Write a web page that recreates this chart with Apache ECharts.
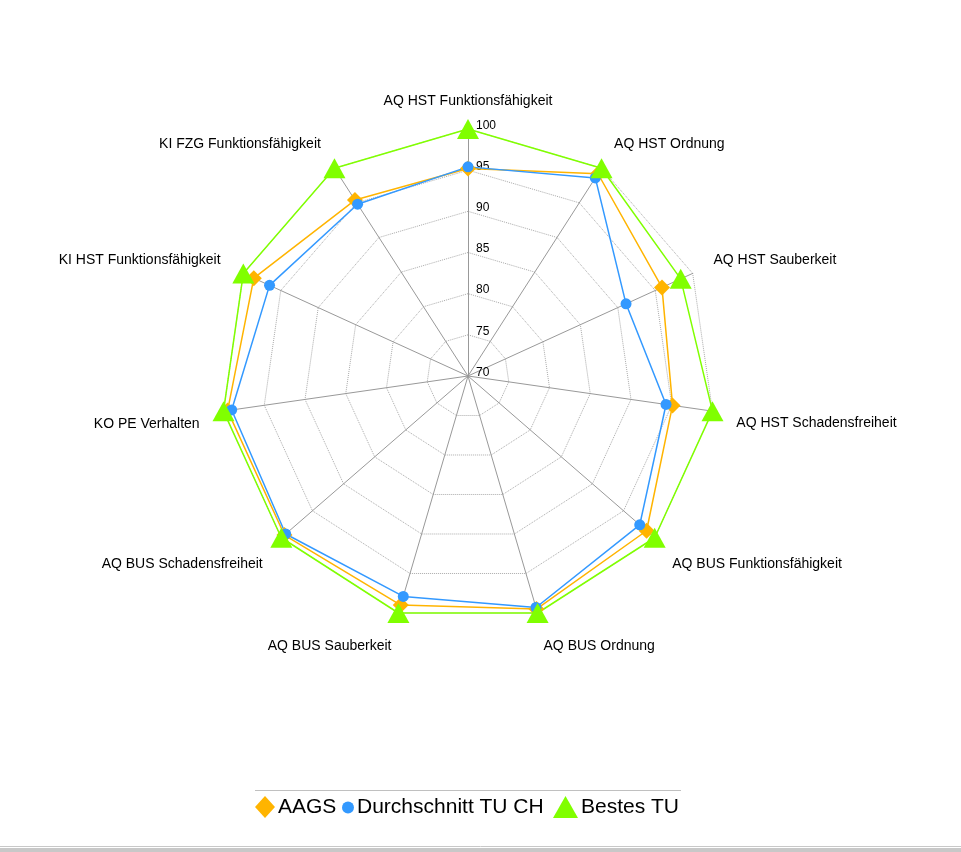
<!DOCTYPE html>
<html>
<head>
<meta charset="utf-8">
<script src="https://cdn.jsdelivr.net/npm/echarts@6/dist/echarts.min.js"></script>
<style>
  html, body { margin: 0; padding: 0; background: #fff; }
  #chart { width: 961px; height: 852px; }
</style>
</head>
<body>
<div id="chart"></div>
<script>
// clockwise from the top
const categories = [
  'AQ HST Funktionsfähigkeit',
  'AQ HST Ordnung',
  'AQ HST Sauberkeit',
  'AQ HST Schadensfreiheit',
  'AQ BUS Funktionsfähigkeit',
  'AQ BUS Ordnung',
  'AQ BUS Sauberkeit',
  'AQ BUS Schadensfreiheit',
  'KO PE Verhalten',
  'KI HST Funktionsfähigkeit',
  'KI FZG Funktionsfähigkeit'
];
const aags = [95.2, 99.2, 95.9, 95.1, 98.7, 99.5, 99.0, 99.5, 99.5, 98.6, 95.4];
const durchschnitt = [95.4, 98.6, 91.1, 94.3, 97.6, 99.3, 97.9, 99.3, 99.0, 96.5, 94.8];
const bestes = [100, 100, 98.4, 100, 100, 100, 100, 100, 100, 100, 100];
const axisMin = 70;
const axisMax = 100;
const tickStep = 5;

// [dx, dy] nudge of each category name away from where echarts puts it
const nameNudge = [
  [0, -14],
  [5, -12],
  [8, -7],
  [10, 10],
  [7, 17],
  [2, 20],
  [-3, 20],
  [-8, 17],
  [-10, 11],
  [-10, -7],
  [-6, -12]
];

const font = '"Liberation Sans", Arial, sans-serif';

// echarts lays radar indicators out counter-clockwise, so flip all but the first
function clockwise(arr) {
  return [arr[0]].concat(arr.slice(1).reverse());
}

function nameStyle(nudge) {
  const dx = nudge[0], dy = nudge[1];
  return {
    padding: [0, dx < 0 ? -dx : 0, 0, dx > 0 ? dx : 0],
    verticalAlign: dy < 0 ? 'bottom' : 'top',
    lineHeight: Math.abs(dy) * 2
  };
}

const indicators = clockwise(categories.map((name, i) => ({
  name: name,
  min: axisMin,
  max: axisMax,
  nameTextStyle: nameStyle(nameNudge[i])
})));
indicators[0].axisLabel = { show: true };

const chart = echarts.init(document.getElementById('chart'), null, { renderer: 'canvas' });

const legendText = { fontSize: 21, color: '#000', fontFamily: font, padding: [0, 0, 0, -2] };

const option = {
  backgroundColor: '#ffffff',
  animation: false,
  textStyle: { fontFamily: font },
  legend: [
    {
      top: 791, left: 250, itemWidth: 20, itemHeight: 22,
      textStyle: legendText,
      data: [{ name: 'AAGS', icon: 'diamond' }]
    },
    {
      top: 792, left: 337, itemWidth: 12, itemHeight: 12,
      textStyle: legendText,
      data: [{ name: 'Durchschnitt TU CH', icon: 'circle' }]
    },
    {
      top: 791, left: 548, itemWidth: 25, itemHeight: 22,
      textStyle: legendText,
      data: [{ name: 'Bestes TU', icon: 'triangle' }]
    }
  ],
  radar: {
    center: [468, 376],
    radius: 247,
    startAngle: 90,
    shape: 'polygon',
    splitNumber: (axisMax - axisMin) / tickStep,
    nameGap: 14,
    axisName: { color: '#000', fontSize: 14, fontFamily: font },
    axisLine: { lineStyle: { color: '#999', width: 1 } },
    splitLine: { lineStyle: { color: '#aaa', width: 1, type: 'dotted' } },
    splitArea: { show: false },
    axisTick: { show: false },
    axisLabel: {
      show: false,
      color: '#000',
      fontSize: 12,
      fontFamily: font,
      align: 'left',
      verticalAlign: 'bottom',
      lineHeight: 7,
      margin: -8
    },
    indicator: indicators
  },
  series: [
    {
      type: 'radar',
      data: [
        {
          name: 'AAGS',
          value: clockwise(aags),
          symbol: 'diamond',
          symbolSize: 16,
          lineStyle: { color: '#ffb400', width: 1.5 },
          itemStyle: { color: '#ffb400' }
        },
        {
          name: 'Durchschnitt TU CH',
          value: clockwise(durchschnitt),
          symbol: 'circle',
          symbolSize: 11,
          lineStyle: { color: '#3399ff', width: 1.5 },
          itemStyle: { color: '#3399ff' }
        },
        {
          name: 'Bestes TU',
          value: clockwise(bestes),
          symbol: 'triangle',
          symbolSize: [22, 20],
          lineStyle: { color: '#80ff00', width: 1.5 },
          itemStyle: { color: '#80ff00' }
        }
      ]
    }
  ],
  graphic: [
    { type: 'line', shape: { x1: 255, y1: 790.5, x2: 681, y2: 790.5 }, style: { stroke: '#c0c0c0', lineWidth: 1 } },
    { type: 'line', shape: { x1: 0, y1: 846.5, x2: 961, y2: 846.5 }, style: { stroke: '#c8c8c8', lineWidth: 1 } },
    { type: 'rect', shape: { x: 0, y: 848, width: 961, height: 4 }, style: { fill: '#c8c8c8' } }
  ]
};

chart.setOption(option);
</script>
</body>
</html>
